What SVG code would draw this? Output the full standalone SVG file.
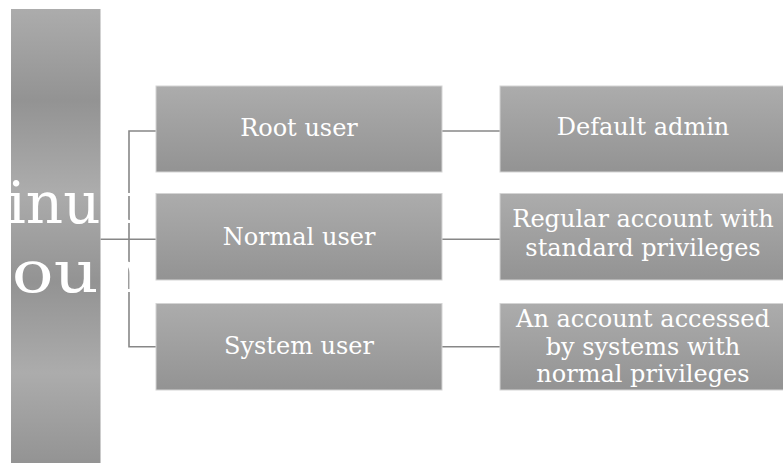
<svg xmlns="http://www.w3.org/2000/svg" width="783" height="463" viewBox="0 0 783 463">
<defs>
<linearGradient id="boxGrad" x1="0" y1="0" x2="0" y2="1">
<stop offset="0" stop-color="#acacac"/>
<stop offset="1" stop-color="#939393"/>
</linearGradient>
<linearGradient id="rootGrad" gradientUnits="userSpaceOnUse" x1="0" y1="9" x2="0" y2="100" spreadMethod="reflect">
<stop offset="0" stop-color="#acacac"/>
<stop offset="1" stop-color="#939393"/>
</linearGradient>
</defs>
<style>
.box{fill:url(#boxGrad);stroke:#d4d4d4;stroke-width:1}
.lbl{font-family:"DejaVu Serif","Liberation Serif",serif;font-size:24px;fill:#ffffff;text-anchor:middle}
.big{font-family:"DejaVu Serif","Liberation Serif",serif;font-size:58px;fill:#ffffff}
.con{fill:none;stroke:#878787;stroke-width:1.6}
</style>
<rect width="783" height="463" fill="#ffffff"/>
<g id="connectors">
<path class="con" d="M100.5 239.3H156"/>
<path class="con" d="M156 131H129V346.7H156"/>
<path class="con" d="M442 131H500"/>
<path class="con" d="M442 239.3H500"/>
<path class="con" d="M442 346.7H500"/>
</g>
<g id="linux-accounts">
<rect x="11" y="9" width="89.5" height="460" fill="url(#rootGrad)"/>
<text class="big" x="51" y="223" text-anchor="middle">Linux</text>
<text class="big" x="-107" y="292" transform="translate(12 0) scale(1.2 1)">Accounts</text>
</g>
<g id="root-user">
<rect class="box" x="156" y="86" width="286" height="86"/>
<text class="lbl" x="299" y="136">Root user</text>
</g>
<g id="normal-user">
<rect class="box" x="156" y="193.5" width="286" height="86.5"/>
<text class="lbl" x="299" y="245">Normal user</text>
</g>
<g id="system-user">
<rect class="box" x="156" y="303.5" width="286" height="86.5"/>
<text class="lbl" x="299" y="354">System user</text>
</g>
<g id="default-admin">
<rect class="box" x="500" y="86" width="286" height="86"/>
<text class="lbl" x="643" y="135">Default admin</text>
</g>
<g id="regular-account">
<rect class="box" x="500" y="193.5" width="286" height="86.5"/>
<text class="lbl" x="643" y="227">Regular account with</text>
<text class="lbl" x="643" y="256">standard privileges</text>
</g>
<g id="system-account">
<rect class="box" x="500" y="303.5" width="286" height="86.5"/>
<text class="lbl" x="643" y="327">An account accessed</text>
<text class="lbl" x="643" y="355">by systems with</text>
<text class="lbl" x="643" y="382">normal privileges</text>
</g>
</svg>
